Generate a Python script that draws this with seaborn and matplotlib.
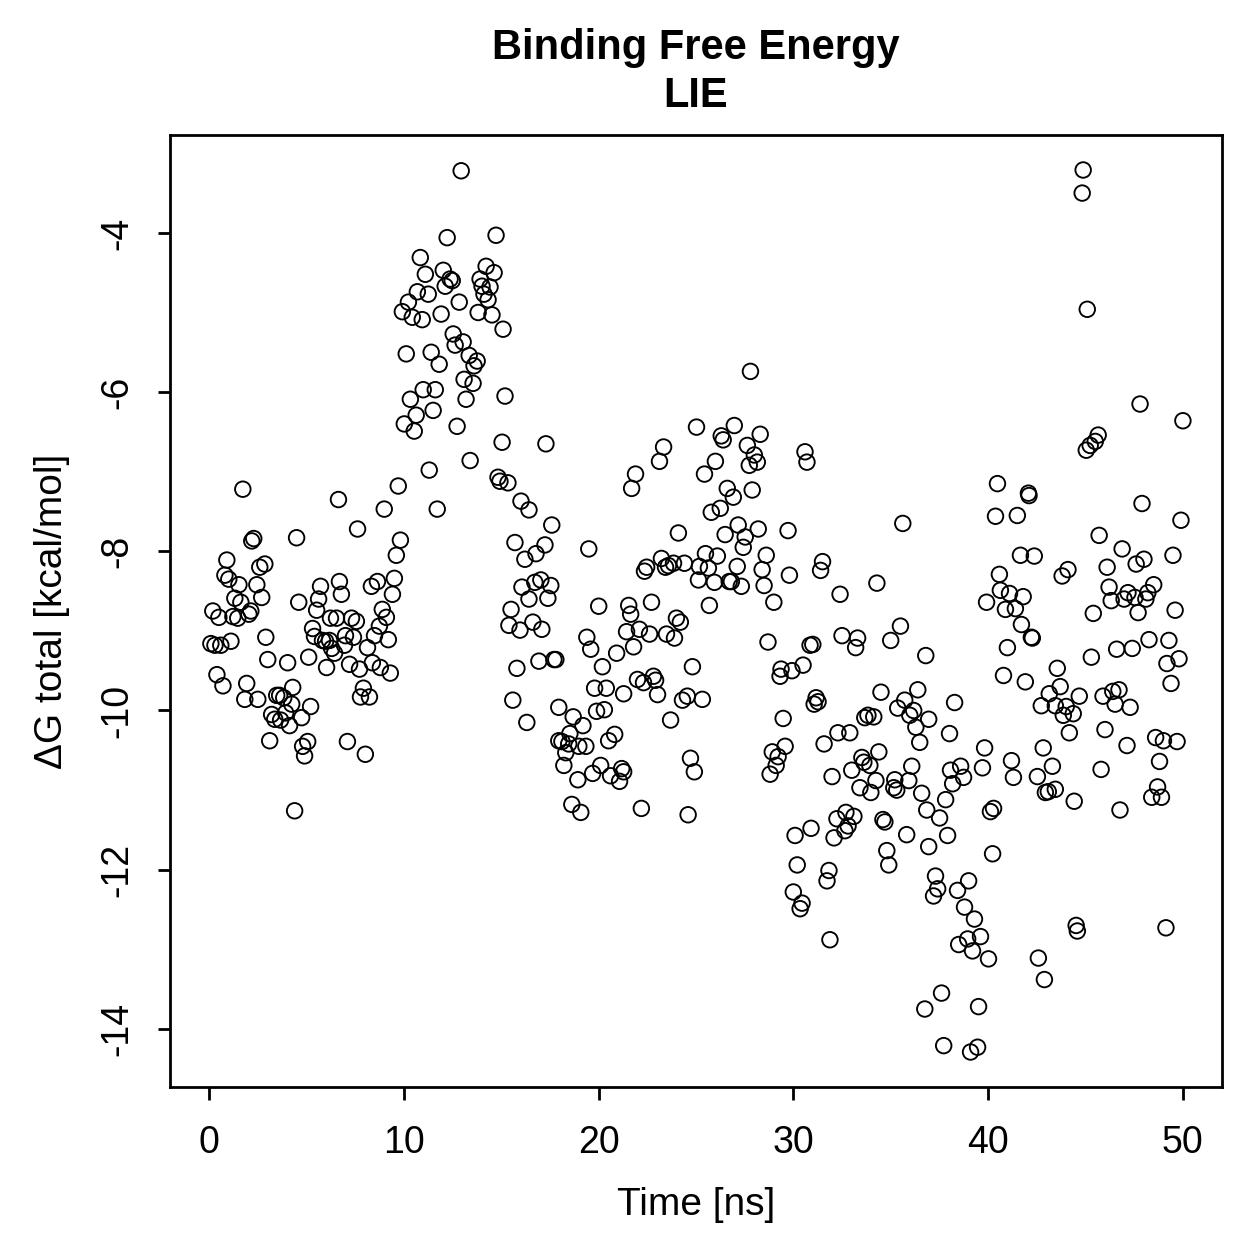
import matplotlib
matplotlib.use("Agg")
import matplotlib.pyplot as plt
import pandas as pd
import seaborn as sns

# (time [ns], dG total [kcal/mol]), grouped by time window
pts_00_10 = [
    (1.74, -7.22), (9.72, -7.18), (6.65, -7.35), (9.0, -7.47), (7.63, -7.72),
    (2.3, -7.84), (2.2, -7.87), (4.5, -7.83), (9.83, -7.86), (9.62, -8.05),
    (0.92, -8.11), (2.87, -8.16), (2.61, -8.2), (0.82, -8.3), (1.02, -8.35),
    (1.54, -8.42), (2.46, -8.42), (6.7, -8.38), (6.8, -8.54), (5.73, -8.44),
    (5.63, -8.6), (8.65, -8.38), (8.34, -8.44), (9.52, -8.34), (9.42, -8.54),
    (1.33, -8.59), (1.64, -8.64), (2.71, -8.58), (4.61, -8.64), (0.2, -8.75),
    (0.51, -8.83), (1.23, -8.82), (1.48, -8.84), (2.15, -8.75), (2.05, -8.79),
    (5.53, -8.74), (6.24, -8.84), (6.55, -8.84), (7.32, -8.84), (7.57, -8.88),
    (8.9, -8.73), (9.11, -8.83), (5.32, -8.97), (5.42, -9.07), (8.75, -8.94),
    (8.5, -9.06), (2.92, -9.08), (5.83, -9.12), (6.19, -9.12), (5.99, -9.13),
    (6.3, -9.22), (6.45, -9.28), (6.96, -9.18), (7.42, -9.08), (7.01, -9.06),
    (8.14, -9.21), (9.21, -9.11), (0.1, -9.16), (0.31, -9.18), (0.61, -9.18),
    (1.13, -9.13), (3.02, -9.36), (4.04, -9.4), (5.12, -9.33), (6.04, -9.46),
    (7.22, -9.42), (7.73, -9.48), (8.39, -9.4), (8.8, -9.46), (9.31, -9.53),
    (0.41, -9.55), (0.72, -9.69), (1.94, -9.66), (4.3, -9.71), (7.93, -9.72),
    (7.78, -9.83), (8.24, -9.83), (1.84, -9.86), (2.51, -9.86), (3.48, -9.81),
    (3.63, -9.81), (3.84, -9.84), (4.25, -9.92), (5.22, -9.95), (3.22, -10.05),
    (3.38, -10.11), (3.68, -10.12), (4.14, -10.19), (4.76, -10.09), (3.94, -10.03),
    (3.12, -10.38), (7.11, -10.39), (8.03, -10.55), (5.07, -10.39), (4.81, -10.45),
    (4.91, -10.57), (4.4, -11.26),
]

pts_10_16 = [
    (12.95, -3.22), (12.23, -4.06), (14.74, -4.03), (10.85, -4.31), (11.11, -4.52),
    (12.03, -4.47), (12.38, -4.58), (12.49, -4.6), (12.13, -4.67), (14.23, -4.42),
    (14.64, -4.5), (13.92, -4.58), (14.02, -4.67), (14.43, -4.68), (14.12, -4.77),
    (14.33, -4.84), (10.7, -4.74), (11.26, -4.77), (10.24, -4.87), (9.93, -4.99),
    (10.44, -5.06), (10.95, -5.09), (11.92, -5.02), (12.85, -4.87), (13.82, -5.0),
    (14.53, -5.03), (15.1, -5.21), (12.54, -5.27), (12.64, -5.41), (13.05, -5.37),
    (13.36, -5.54), (13.77, -5.61), (13.61, -5.67), (10.13, -5.52), (11.41, -5.5),
    (11.82, -5.65), (13.1, -5.84), (13.56, -5.89), (11.0, -5.97), (11.62, -5.97),
    (10.34, -6.09), (13.2, -6.09), (15.2, -6.05), (11.51, -6.23), (10.64, -6.29),
    (10.03, -6.4), (10.54, -6.49), (12.74, -6.43), (15.05, -6.63), (13.41, -6.86),
    (11.31, -6.98), (14.84, -7.07), (14.94, -7.12), (15.35, -7.14), (16.02, -7.37),
    (16.43, -7.48), (11.72, -7.47), (15.71, -7.89),
]

pts_15_20 = [
    (17.3, -6.65), (17.6, -7.67), (16.22, -8.1), (16.79, -8.03), (17.25, -7.92),
    (19.5, -7.97), (16.07, -8.45), (16.73, -8.39), (17.04, -8.36), (17.55, -8.43),
    (16.43, -8.6), (17.4, -8.59), (15.51, -8.73), (15.4, -8.93), (15.97, -8.99),
    (16.63, -8.89), (17.09, -8.98), (20.01, -8.69), (19.4, -9.08), (19.6, -9.23),
    (15.81, -9.47), (16.94, -9.38), (17.71, -9.36), (17.81, -9.36), (20.2, -9.45),
    (19.8, -9.72), (20.4, -9.72), (15.6, -9.87), (17.96, -9.96), (19.9, -10.01),
    (20.3, -9.99), (16.32, -10.15), (18.7, -10.08), (19.2, -10.19), (17.96, -10.38),
    (18.12, -10.39), (18.53, -10.29), (18.47, -10.42), (18.99, -10.45), (19.35, -10.45),
    (18.32, -10.53), (18.22, -10.69), (18.94, -10.87), (19.7, -10.79), (20.11, -10.69),
    (18.63, -11.18), (19.09, -11.28),
]

pts_20_27 = [
    (25.03, -6.44), (26.3, -6.55), (26.4, -6.6), (26.97, -6.42), (23.34, -6.69),
    (23.13, -6.87), (21.9, -7.03), (21.7, -7.21), (26.0, -6.87), (25.44, -7.03),
    (26.61, -7.21), (26.92, -7.32), (25.79, -7.51), (26.25, -7.46), (24.1, -7.77),
    (26.5, -7.79), (27.17, -7.67), (23.23, -8.09), (22.47, -8.2), (22.36, -8.25),
    (23.44, -8.2), (23.59, -8.18), (23.85, -8.15), (24.41, -8.15), (25.49, -8.03),
    (26.1, -8.06), (25.18, -8.19), (25.64, -8.21), (25.13, -8.36), (25.95, -8.39),
    (26.71, -8.38), (27.12, -8.19), (21.55, -8.68), (21.65, -8.79), (22.72, -8.64),
    (25.69, -8.68), (24.0, -8.84), (24.2, -8.89), (21.44, -9.01), (22.1, -8.98),
    (22.62, -9.04), (21.8, -9.2), (23.49, -9.04), (23.9, -9.09), (20.93, -9.28),
    (21.29, -9.79), (22.0, -9.61), (22.31, -9.65), (22.82, -9.57), (22.93, -9.62),
    (23.03, -9.8), (24.82, -9.45), (24.31, -9.87), (24.56, -9.82), (25.33, -9.86),
    (23.7, -10.12), (20.52, -10.38), (20.83, -10.3), (24.72, -10.6), (24.92, -10.77),
    (20.62, -10.82), (21.19, -10.73), (21.08, -10.89), (21.29, -10.77), (22.2, -11.23),
    (24.6, -11.31),
]

pts_27_32 = [
    (27.8, -5.74), (28.3, -6.53), (27.64, -6.67), (28.0, -6.79), (28.15, -6.88),
    (27.74, -6.92), (30.6, -6.75), (30.7, -6.88), (27.89, -7.23), (27.53, -7.82),
    (27.43, -7.95), (28.2, -7.72), (29.73, -7.74), (28.61, -8.05), (28.4, -8.23),
    (28.5, -8.43), (26.82, -8.38), (27.33, -8.44), (29.8, -8.3), (31.5, -8.13),
    (31.4, -8.24), (29.0, -8.64), (28.7, -9.14), (30.86, -9.18), (31.0, -9.17),
    (29.37, -9.48), (29.32, -9.57), (29.93, -9.5), (30.5, -9.43), (31.17, -9.84),
    (31.07, -9.92), (31.27, -9.89), (29.48, -10.1), (31.58, -10.42), (28.92, -10.52),
    (29.58, -10.45), (29.22, -10.58), (29.12, -10.69), (28.81, -10.8),
]

pts_30_37 = [
    (35.62, -7.65), (32.4, -8.54), (34.29, -8.4), (32.5, -9.06), (33.3, -9.09),
    (33.2, -9.21), (35.0, -9.12), (35.5, -8.94), (36.8, -9.31), (34.5, -9.77),
    (36.39, -9.74), (35.72, -9.87), (35.36, -9.97), (36.18, -10.0), (35.98, -10.06),
    (36.29, -10.21), (36.95, -10.11), (33.67, -10.09), (33.83, -10.06), (34.13, -10.08),
    (32.29, -10.28), (32.9, -10.28), (36.49, -10.4), (34.39, -10.52), (33.52, -10.59),
    (33.62, -10.65), (33.93, -10.69), (33.0, -10.75), (36.08, -10.7), (31.99, -10.83),
    (33.42, -10.97), (34.24, -10.88), (33.98, -11.03), (35.21, -10.87), (35.16, -10.97),
    (35.31, -11.0), (35.93, -10.88), (36.59, -11.04), (36.85, -11.25), (32.24, -11.36),
    (32.7, -11.28), (33.11, -11.33), (32.81, -11.45), (32.65, -11.51), (32.09, -11.6),
    (34.6, -11.37), (34.7, -11.4), (30.91, -11.48), (30.09, -11.57), (35.82, -11.56),
    (34.8, -11.76), (34.9, -11.94), (36.95, -11.71), (30.2, -11.94), (31.83, -12.01),
    (31.73, -12.14), (30.0, -12.28), (30.45, -12.42), (30.35, -12.49), (31.88, -12.88),
]

pts_37_43 = [
    (40.99, -9.21), (42.27, -9.09), (40.79, -9.56), (41.91, -9.64), (38.28, -9.9),
    (42.73, -9.94), (43.14, -9.79), (38.02, -10.29), (39.82, -10.47), (39.71, -10.72),
    (41.2, -10.63), (41.3, -10.84), (42.83, -10.47), (42.53, -10.83), (42.94, -11.03),
    (43.09, -11.02), (38.07, -10.75), (38.59, -10.7), (38.18, -10.92), (38.74, -10.84),
    (37.82, -11.12), (37.51, -11.35), (40.28, -11.23), (40.12, -11.27), (37.92, -11.57),
    (40.23, -11.8), (37.3, -12.08), (37.41, -12.24), (37.2, -12.33), (39.0, -12.14),
    (38.43, -12.26), (38.79, -12.47), (39.3, -12.62), (38.49, -12.94), (38.95, -12.87),
    (39.61, -12.84), (39.2, -13.02), (40.02, -13.12), (42.58, -13.11), (42.89, -13.38),
    (37.61, -13.55), (36.75, -13.75), (39.51, -13.72), (37.72, -14.21), (39.46, -14.23),
    (39.1, -14.29),
]

pts_40_45 = [
    (40.48, -7.15), (42.07, -7.27), (42.1, -7.3), (40.38, -7.56), (41.5, -7.55),
    (41.66, -8.05), (42.37, -8.06), (40.58, -8.29), (43.8, -8.31), (44.1, -8.23),
    (39.92, -8.64), (40.63, -8.49), (41.1, -8.53), (41.8, -8.57), (40.89, -8.73),
    (41.4, -8.72), (41.71, -8.92), (42.22, -9.08), (43.55, -9.47), (43.7, -9.7),
    (44.68, -9.82), (43.45, -9.94), (44.01, -9.95), (43.86, -10.06), (44.37, -10.04),
    (44.17, -10.28), (43.3, -10.7), (43.45, -10.99), (44.42, -11.14),
]

pts_45_50 = [
    (44.88, -3.21), (44.83, -3.5), (45.09, -4.96), (47.8, -6.15), (50.0, -6.36),
    (45.65, -6.54), (45.5, -6.62), (45.24, -6.67), (45.04, -6.73), (47.9, -7.4),
    (49.9, -7.61), (45.7, -7.8), (46.88, -7.97), (47.6, -8.16), (48.0, -8.1),
    (49.49, -8.05), (46.11, -8.2), (46.21, -8.45), (46.32, -8.62), (47.18, -8.52),
    (46.98, -8.6), (47.54, -8.58), (48.2, -8.52), (48.5, -8.42), (48.1, -8.6),
    (45.4, -8.78), (47.7, -8.77), (49.6, -8.74), (46.6, -9.23), (47.4, -9.22),
    (48.26, -9.11), (49.28, -9.12), (45.3, -9.33), (49.8, -9.35), (49.18, -9.41),
    (49.39, -9.66), (45.9, -9.82), (46.4, -9.76), (46.72, -9.74), (46.52, -9.92),
    (47.29, -9.96), (46.0, -10.24), (47.13, -10.44), (48.6, -10.34), (49.0, -10.38),
    (49.7, -10.39), (48.8, -10.64), (45.8, -10.74), (48.7, -10.96), (48.4, -11.09),
    (48.9, -11.09), (46.77, -11.25), (44.52, -12.7), (44.58, -12.77), (49.13, -12.73),
]

X_TICKS = [0, 10, 20, 30, 40, 50]
Y_TICKS = [-14, -12, -10, -8, -6, -4]


def main() -> None:
    pts = (pts_00_10 + pts_10_16 + pts_15_20 + pts_20_27 + pts_27_32
           + pts_30_37 + pts_37_43 + pts_40_45 + pts_45_50)
    df = pd.DataFrame(pts, columns=["time", "dg"])

    sns.set_theme(style="ticks")
    plt.rcParams["font.family"] = ["Liberation Sans", "DejaVu Sans"]
    plt.rcParams["axes.unicode_minus"] = False
    plt.rcParams["text.color"] = "black"

    fig = plt.figure(figsize=(12.59, 12.59), dpi=100)
    ax = fig.add_axes([0.135, 0.1366, 0.8355, 0.7562])

    # open circles, like R's pch = 1
    sns.scatterplot(
        data=df, x="time", y="dg",
        marker="o", s=125,
        facecolor="none", edgecolor="black", linewidth=1.35,
        ax=ax,
    )

    ax.set_xlim(-2, 52)
    ax.set_ylim(-14.73, -2.77)
    ax.set_xticks(X_TICKS)
    ax.set_yticks(Y_TICKS)
    ax.set_yticklabels([str(v) for v in Y_TICKS], rotation=90, va="center")

    for sp in ax.spines.values():
        sp.set_visible(True)
        sp.set_linewidth(2.0)
        sp.set_color("black")
    ax.tick_params(axis="both", direction="out", length=9, width=2.0,
                   color="black", labelsize=27, labelcolor="black")
    ax.tick_params(axis="x", pad=18)
    ax.tick_params(axis="y", pad=16)

    ax.set_xlabel("Time [ns]", fontsize=28, color="black")
    ax.set_ylabel("ΔG total [kcal/mol]", fontsize=28, color="black")
    ax.xaxis.set_label_coords(0.5, -0.105)
    ax.yaxis.set_label_coords(-0.095, 0.5)

    ax.set_title("Binding Free Energy\nLIE", fontsize=30, fontweight="bold",
                 color="black", pad=20, linespacing=1.25)

    fig.savefig("out.png", dpi=100)
    plt.close(fig)


if __name__ == "__main__":
    main()
